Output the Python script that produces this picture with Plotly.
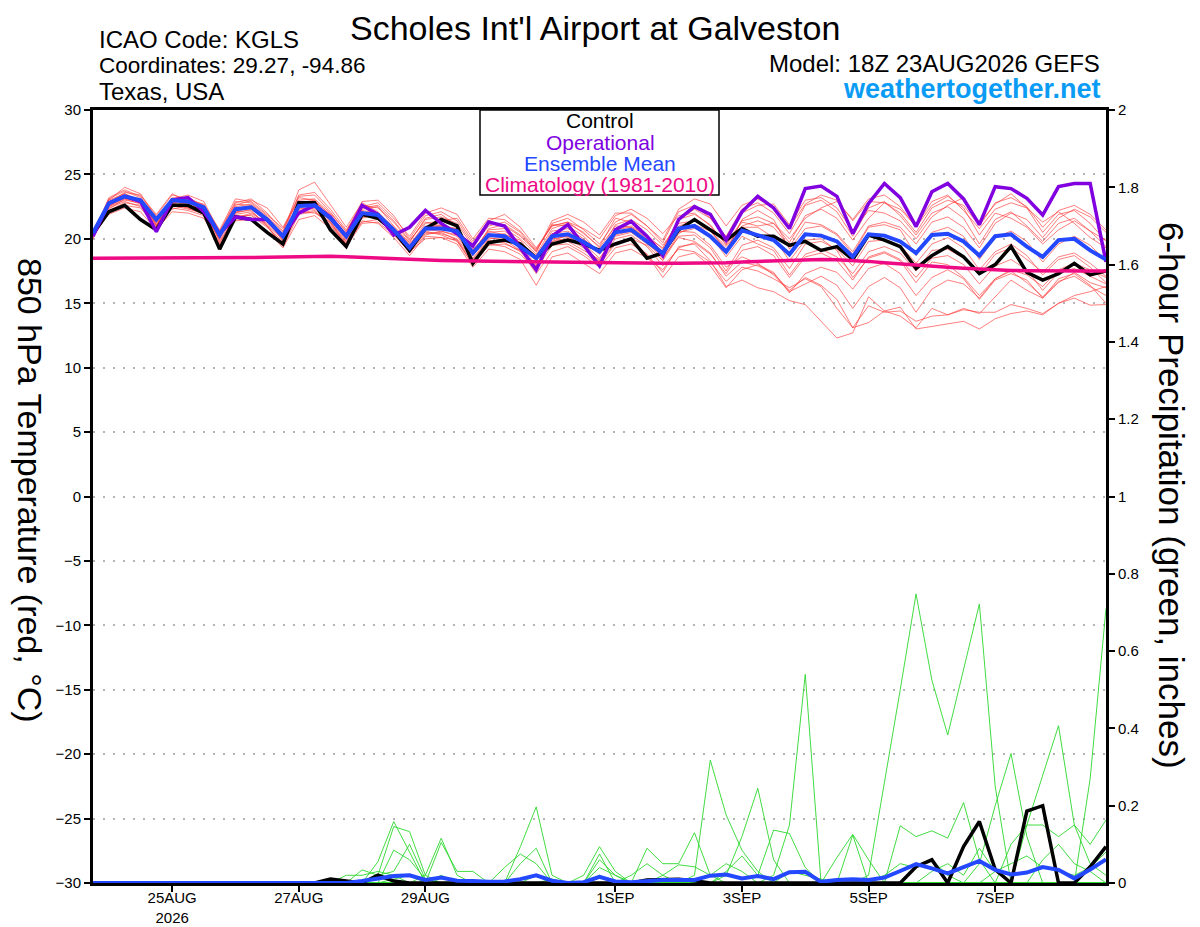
import plotly.graph_objects as go
from datetime import datetime, timedelta

# ---------------- data ----------------
START = datetime(2026, 8, 23, 18)
N_STEPS = 65
TIMES = [START + timedelta(hours=6 * i) for i in range(N_STEPS)]

TICK_DATES = ["2026-08-25", "2026-08-27", "2026-08-29", "2026-09-01",
              "2026-09-03", "2026-09-05", "2026-09-07"]
TICK_LABELS = ["25AUG<br>2026", "27AUG", "29AUG", "1SEP", "3SEP", "5SEP", "7SEP"]
TEMP_TICKS = [-30, -25, -20, -15, -10, -5, 0, 5, 10, 15, 20, 25, 30]
PRECIP_TICKS = [0, 0.2, 0.4, 0.6, 0.8, 1.0, 1.2, 1.4, 1.6, 1.8, 2.0]
PRECIP_TICK_LABELS = ["0", "0.2", "0.4", "0.6", "0.8", "1", "1.2", "1.4", "1.6", "1.8", "2"]

CONTROL_T = [20.4, 22.1, 22.6, 21.5, 20.7, 22.6, 22.6, 22.0,
             19.2, 21.7, 21.5, 20.5, 19.6, 22.8, 22.8, 20.7,
             19.4, 21.9, 21.6, 20.6, 19.1, 20.8, 21.5, 21.0,
             18.1, 19.7, 19.9, 19.6, 18.5, 19.6, 19.9, 19.6,
             19.1, 19.6, 20.0, 18.5, 18.9, 20.7, 21.5, 20.7,
             19.9, 20.8, 20.2, 20.2, 19.5, 19.8, 19.1, 19.4,
             18.4, 20.3, 19.9, 19.4, 17.7, 18.7, 19.4, 18.6,
             17.3, 18.0, 19.4, 17.4, 16.8, 17.3, 18.1, 17.2,
             17.5]

OPER_T = [20.2, 22.75, 23.3, 22.9, 20.55, 23.0, 23.2, 22.1,
          20.4, 21.7, 21.5, 21.5, 20.2, 22.0, 22.6, 21.7,
          20.2, 22.6, 21.9, 20.3, 20.9, 22.2, 21.2, 20.4,
          19.45, 21.3, 21.0, 19.3, 17.6, 20.2, 21.1, 19.5,
          17.9, 20.7, 21.35, 20.2, 18.7, 21.5, 22.5, 21.9,
          19.9, 22.1, 23.3, 22.4, 20.8, 23.9, 24.1, 23.3,
          20.4, 22.75, 24.3, 23.2, 20.95, 23.65, 24.3, 23.1,
          21.1, 24.05, 23.9, 23.15, 21.85, 24.05, 24.3, 24.3,
          18.2]

MEAN_T = [20.45, 22.76, 23.3, 23.0, 21.5, 23.0, 22.9, 22.45,
          20.3, 22.3, 22.45, 21.5, 20.2, 22.55, 22.6, 21.6,
          20.2, 22.0, 21.85, 20.7, 19.3, 20.8, 20.8, 20.6,
          18.9, 20.3, 20.2, 19.4, 18.5, 20.2, 20.35, 19.75,
          19.0, 20.5, 20.7, 19.8, 18.9, 20.8, 21.0, 20.2,
          19.0, 20.65, 20.3, 19.9, 18.8, 20.35, 20.25, 19.8,
          18.6, 20.35, 20.25, 19.8, 18.9, 20.3, 20.4, 19.8,
          18.7, 20.2, 20.35, 19.4, 18.6, 19.9, 20.0, 19.1,
          18.4]

CLIMO_T = [18.5, 18.5, 18.52, 18.53, 18.55, 18.55, 18.54, 18.52,
           18.52, 18.53, 18.55, 18.57, 18.6, 18.62, 18.65, 18.65,
           18.6, 18.55, 18.48, 18.42, 18.38, 18.35, 18.32, 18.3,
           18.28, 18.27, 18.25, 18.24, 18.22, 18.22, 18.2, 18.2,
           18.18, 18.17, 18.15, 18.12, 18.1, 18.1, 18.1, 18.12,
           18.15, 18.2, 18.25, 18.3, 18.35, 18.38, 18.4, 18.38,
           18.33, 18.25, 18.15, 18.05, 17.95, 17.87, 17.8, 17.72,
           17.65, 17.6, 17.55, 17.52, 17.5, 17.5, 17.5, 17.5,
           17.5]

MEMBERS_T = [
    [20.3, 23.2, 23.8, 23.3, 21.8, 23.4, 23.1, 22.6, 20.6, 22.8, 23.1, 22.0, 20.6, 23.4, 23.6, 22.3,
     20.7, 22.6, 22.4, 21.3, 19.8, 21.5, 21.7, 21.2, 19.4, 21.0, 21.3, 20.5, 19.0, 21.2, 21.6, 20.7,
     19.6, 21.3, 21.9, 21.0, 19.7, 22.1, 22.6, 21.6, 20.2, 22.3, 22.8, 22.0, 20.4, 22.6, 23.0, 22.1,
     20.2, 22.4, 22.9, 21.8, 20.3, 22.0, 22.5, 21.6, 19.6, 21.5, 22.1, 21.0, 19.8, 21.2, 21.6, 20.6, 19.4],
    [20.6, 22.5, 23.0, 22.8, 21.2, 22.7, 22.5, 22.0, 19.9, 21.9, 22.1, 21.1, 19.7, 22.0, 22.2, 21.0,
     19.6, 21.4, 21.2, 20.1, 18.7, 20.2, 20.1, 19.9, 18.2, 19.6, 19.4, 18.8, 17.6, 19.5, 19.6, 18.9,
     18.0, 19.6, 19.9, 18.8, 17.4, 19.4, 19.6, 18.3, 16.3, 16.8, 16.2, 15.9, 15.2, 14.9, 13.6, 12.3,
     12.7, 15.5, 14.4, 14.0, 13.1, 14.6, 14.1, 14.6, 14.2, 15.5, 16.8, 16.0, 15.4, 16.6, 17.4, 16.6, 16.2],
    [20.2, 22.0, 22.6, 22.4, 20.9, 22.3, 22.6, 22.1, 20.1, 22.0, 22.3, 21.3, 20.0, 22.3, 22.5, 21.4,
     19.9, 21.8, 21.6, 20.4, 19.0, 20.5, 20.4, 20.0, 18.4, 19.9, 19.7, 19.0, 17.9, 19.8, 20.0, 19.3,
     18.3, 20.0, 20.3, 19.4, 17.9, 19.2, 19.0, 18.2, 16.7, 17.8, 17.5, 16.9, 16.2, 16.9, 16.3, 14.6,
     13.1, 14.8, 14.3, 14.4, 13.6, 14.0, 14.1, 14.5, 14.3, 14.3, 14.9, 14.6, 14.2, 15.0, 15.4, 14.85, 14.9],
    [20.0, 23.0, 24.0, 23.5, 21.6, 23.1, 23.4, 22.9, 20.5, 22.9, 22.8, 21.8, 20.5, 23.8, 24.4, 22.6,
     20.9, 22.8, 22.1, 20.9, 19.5, 21.2, 21.4, 21.6, 19.8, 21.4, 21.9, 20.9, 19.3, 21.0, 21.3, 20.4,
     19.4, 21.6, 21.3, 20.3, 19.2, 21.5, 21.9, 21.1, 19.5, 21.3, 21.0, 21.2, 20.0, 21.6, 22.4, 22.9,
     21.5, 23.1, 23.4, 22.5, 20.9, 22.6, 23.3, 22.4, 20.3, 22.0, 21.6, 20.9, 19.6, 20.7, 21.4, 20.6, 19.9],
    [20.5, 22.4, 22.9, 22.5, 21.0, 22.9, 22.6, 22.3, 19.8, 21.6, 22.0, 21.2, 19.9, 22.1, 22.0, 21.3,
     19.8, 21.6, 21.9, 20.9, 19.6, 21.0, 20.9, 20.8, 19.1, 20.6, 20.3, 19.9, 18.3, 20.4, 20.1, 19.6,
     18.5, 20.2, 20.5, 19.6, 18.7, 20.5, 20.8, 20.3, 18.6, 20.2, 19.6, 19.1, 17.2, 18.8, 19.2, 18.6,
     17.3, 19.0, 19.4, 18.9, 17.5, 19.1, 19.2, 18.5, 17.2, 18.8, 19.3, 18.4, 17.4, 18.6, 18.9, 18.1, 17.1],
    [20.4, 22.9, 23.5, 23.0, 21.3, 22.6, 22.3, 22.0, 20.0, 22.5, 22.7, 21.7, 20.3, 22.8, 23.0, 21.8,
     20.4, 22.3, 22.5, 21.0, 19.7, 21.6, 21.9, 21.0, 19.0, 20.7, 20.8, 20.0, 18.8, 20.8, 21.2, 20.5,
     19.3, 21.0, 20.9, 20.1, 19.3, 21.5, 22.3, 21.6, 20.1, 22.0, 22.6, 22.7, 21.1, 23.0, 23.2, 22.4,
     20.6, 22.2, 22.0, 21.4, 20.0, 21.7, 22.6, 23.2, 21.2, 22.7, 23.5, 22.4, 20.5, 21.9, 22.2, 21.2, 19.8],
    [20.1, 22.2, 22.8, 22.6, 21.4, 23.2, 23.1, 22.4, 20.4, 22.1, 22.2, 21.0, 19.5, 22.2, 22.4, 21.5,
     20.0, 22.1, 21.7, 20.5, 18.9, 20.3, 20.6, 20.3, 18.7, 20.1, 19.9, 19.1, 17.9, 20.0, 20.2, 19.4,
     18.2, 19.7, 20.0, 19.5, 18.3, 20.2, 20.3, 19.3, 17.5, 19.5, 19.9, 19.3, 17.7, 19.6, 19.8, 19.2,
     17.9, 19.8, 19.9, 19.5, 18.1, 19.6, 20.1, 19.3, 17.6, 19.0, 19.6, 18.7, 17.2, 18.4, 18.7, 17.8, 16.6],
    [20.6, 22.7, 23.3, 23.1, 21.7, 22.8, 22.4, 22.2, 20.2, 22.4, 22.5, 21.6, 20.1, 22.4, 22.3, 21.2,
     19.7, 21.9, 22.0, 20.8, 19.2, 20.7, 20.6, 20.2, 18.5, 20.0, 20.1, 19.4, 18.0, 19.8, 20.3, 19.8,
     18.8, 20.3, 20.6, 19.9, 18.6, 20.1, 19.8, 18.9, 17.1, 18.2, 17.9, 17.3, 16.0, 17.0, 16.4, 15.3,
     13.1, 13.5, 14.4, 14.7, 13.0, 13.2, 13.4, 13.6, 13.0, 13.8, 14.2, 14.4, 14.1, 15.0, 15.6, 15.9, 16.3],
    [20.3, 23.0, 23.5, 22.9, 21.1, 22.8, 23.0, 22.7, 20.7, 23.1, 22.9, 21.9, 20.8, 23.0, 23.1, 22.0,
     20.6, 22.5, 22.8, 21.6, 20.2, 22.0, 22.4, 21.9, 20.0, 21.6, 21.5, 20.6, 19.2, 21.0, 21.3, 20.8,
     20.0, 21.8, 22.3, 21.6, 20.4, 21.8, 22.0, 21.0, 19.6, 21.4, 21.7, 21.2, 19.7, 21.8, 22.3, 21.6,
     19.9, 21.6, 22.8, 22.3, 21.0, 22.9, 23.4, 22.2, 20.8, 22.3, 22.8, 22.4, 21.3, 22.1, 21.2, 20.1, 19.3],
    [20.5, 21.9, 22.4, 22.1, 20.7, 22.1, 22.0, 21.6, 19.6, 21.4, 21.5, 20.6, 19.3, 21.5, 21.8, 20.8,
     19.4, 21.2, 21.3, 20.3, 19.0, 20.0, 20.1, 19.6, 17.8, 19.2, 19.0, 18.4, 16.4, 18.6, 18.9, 18.1,
     17.3, 18.9, 19.2, 18.5, 17.6, 19.3, 19.7, 18.8, 17.3, 19.1, 19.4, 18.7, 17.0, 18.6, 18.9, 18.3,
     16.8, 18.6, 19.0, 18.4, 17.0, 18.5, 18.7, 18.0, 16.5, 17.9, 18.4, 17.6, 16.0, 17.4, 17.7, 17.1, 16.5],
    [20.4, 22.6, 23.1, 22.7, 21.3, 22.5, 22.8, 22.3, 20.2, 22.0, 22.6, 21.5, 19.8, 22.6, 22.9, 21.9,
     20.2, 22.2, 22.0, 20.6, 19.3, 20.9, 21.1, 20.7, 19.0, 20.5, 20.6, 19.7, 18.6, 20.6, 20.8, 20.0,
     18.9, 20.8, 21.0, 20.2, 19.0, 20.6, 20.5, 19.5, 17.8, 18.6, 18.1, 17.2, 15.9, 16.5, 17.1, 16.4,
     14.6, 16.3, 17.0, 16.2, 14.3, 16.1, 16.8, 16.5, 15.4, 16.9, 17.6, 17.2, 16.3, 17.6, 18.1, 17.6, 17.0],
    [20.7, 22.8, 23.6, 23.4, 21.9, 23.5, 22.9, 22.1, 20.0, 22.6, 23.0, 22.4, 20.9, 23.2, 23.0, 21.5,
     20.1, 22.4, 22.6, 21.4, 19.9, 21.3, 21.0, 20.5, 18.8, 20.8, 21.1, 20.3, 19.1, 21.1, 21.0, 20.2,
     18.9, 21.1, 21.5, 20.7, 19.5, 21.2, 21.4, 20.6, 19.2, 21.0, 21.4, 20.9, 19.4, 21.3, 21.1, 20.4,
     19.0, 21.0, 21.3, 20.9, 19.6, 21.3, 21.7, 20.9, 19.3, 21.2, 22.0, 21.5, 20.1, 21.6, 22.3, 21.7, 20.5],
    [20.2, 22.3, 23.1, 22.9, 21.1, 22.4, 22.2, 21.8, 19.7, 21.8, 21.8, 20.9, 19.6, 22.5, 22.7, 21.3,
     19.5, 21.7, 21.8, 20.8, 19.4, 20.6, 20.3, 19.8, 18.0, 19.7, 20.0, 19.6, 18.4, 20.1, 19.8, 19.1,
     18.4, 20.4, 20.8, 19.8, 18.4, 20.4, 21.1, 20.6, 19.4, 20.9, 20.9, 20.1, 18.3, 19.9, 20.0, 19.1,
     17.0, 18.5, 18.9, 18.3, 16.6, 18.2, 18.0, 17.0, 15.6, 16.9, 17.5, 16.6, 15.5, 16.7, 17.1, 16.3, 15.6],
    [20.3, 22.6, 23.3, 22.8, 21.0, 23.0, 23.2, 22.6, 20.3, 22.2, 22.4, 21.4, 20.0, 22.6, 22.8, 21.6,
     20.3, 22.0, 21.8, 20.7, 19.3, 20.8, 21.0, 20.8, 19.2, 20.3, 20.4, 19.7, 18.7, 20.4, 20.6, 19.9,
     19.1, 20.7, 20.9, 20.0, 18.9, 21.0, 21.4, 20.7, 19.0, 21.5, 22.2, 21.5, 19.2, 20.8, 21.0, 20.3,
     18.8, 20.9, 21.1, 20.7, 18.7, 20.5, 20.9, 20.2, 18.4, 20.1, 20.6, 19.8, 18.2, 19.6, 20.2, 19.5, 18.3],
    [20.6, 22.5, 23.2, 22.9, 21.4, 22.6, 22.4, 21.9, 19.5, 21.5, 21.9, 21.0, 19.4, 21.9, 22.1, 21.1,
     19.6, 21.3, 21.5, 20.6, 19.1, 20.4, 20.5, 19.9, 18.0, 19.5, 19.6, 19.1, 17.3, 19.0, 19.4, 18.7,
     17.8, 19.3, 19.6, 18.8, 17.0, 18.6, 18.9, 17.9, 16.2, 17.6, 18.0, 17.4, 15.8, 17.3, 17.8, 17.4,
     16.1, 17.7, 18.1, 17.3, 15.6, 17.0, 17.6, 16.9, 15.3, 16.8, 17.3, 16.8, 15.4, 16.9, 17.3, 16.4, 15.0],
    [20.4, 23.1, 23.7, 23.2, 21.5, 22.8, 23.0, 22.5, 20.4, 22.7, 22.6, 21.6, 20.4, 23.3, 23.4, 22.1,
     20.5, 22.9, 23.0, 21.8, 20.0, 21.8, 22.1, 21.4, 19.6, 21.2, 21.0, 20.2, 19.0, 21.4, 21.9, 21.3,
     20.3, 22.0, 22.0, 21.0, 19.9, 22.3, 23.1, 22.7, 21.0, 22.6, 23.1, 22.4, 20.9, 22.7, 23.4, 23.0,
     21.4, 22.9, 22.8, 22.0, 20.5, 22.4, 23.0, 22.6, 21.0, 22.8, 23.2, 22.5, 20.9, 22.2, 22.6, 21.9, 20.7],
]

CONTROL_P = [0, 0, 0, 0, 0, 0, 0, 0,
             0, 0, 0, 0, 0, 0, 0, 0.01,
             0.004, 0, 0.02, 0.005, 0, 0, 0, 0,
             0, 0, 0, 0, 0, 0, 0, 0,
             0, 0, 0, 0.008, 0.01, 0.01, 0.006, 0,
             0, 0, 0, 0, 0, 0, 0, 0,
             0, 0, 0, 0, 0.042, 0.06, 0, 0.094,
             0.159, 0.035, 0, 0.186, 0.2, 0, 0, 0.042,
             0.094]

MEAN_P = [0, 0, 0, 0, 0, 0, 0, 0,
          0, 0, 0, 0, 0, 0, 0, 0,
          0, 0.005, 0.012, 0.018, 0.02, 0.008, 0.014, 0.006,
          0.005, 0.003, 0.004, 0.01, 0.02, 0.006, 0, 0.002,
          0.016, 0.004, 0.002, 0.005, 0.008, 0.008, 0.008, 0.019,
          0.022, 0.012, 0.018, 0.01, 0.028, 0.029, 0.003, 0.008,
          0.01, 0.008, 0.014, 0.031, 0.049, 0.038, 0.025, 0.041,
          0.057, 0.034, 0.022, 0.027, 0.041, 0.034, 0.012, 0.035,
          0.061]

# ensemble member precipitation: {6-hour step index: inches}, all other steps are 0
MEMBERS_P = [
    {18: 0.055, 19: 0.159, 20: 0.08, 49: 0.02, 50: 0.258, 51: 0.5, 52: 0.748, 53: 0.525,
     54: 0.383, 55: 0.55, 56: 0.722, 57: 0.25},
    {18: 0.02, 19: 0.146, 20: 0.133, 21: 0.02, 27: 0.05, 28: 0.09, 56: 0.05, 57: 0.2,
     58: 0.335, 59: 0.12},
    {19: 0.085, 20: 0.06, 21: 0.01, 27: 0.094, 28: 0.197, 29: 0.02, 59: 0.15, 60: 0.28,
     61: 0.407, 62: 0.15, 63: 0.05, 64: 0.02},
    {17: 0.034, 18: 0.02, 19: 0.03, 20: 0.1, 21: 0.01, 32: 0.06, 33: 0.02, 63: 0.27, 64: 0.71},
    {21: 0.02, 22: 0.116, 23: 0.02, 48: 0.124, 51: 0.148, 52: 0.12, 53: 0.135, 54: 0.116,
     55: 0.208, 56: 0.06},
    {22: 0.105, 23: 0.03, 24: 0.03, 58: 0.1, 59: 0.15, 60: 0.15, 61: 0.12, 62: 0.15,
     63: 0.1, 64: 0.163},
    {16: 0.02, 17: 0.02, 18: 0.03, 19: 0.02, 26: 0.04, 27: 0.075, 28: 0.05, 32: 0.04, 33: 0.02},
    {38: 0.02, 39: 0.318, 40: 0.176, 41: 0.085, 42: 0.03},
    {40: 0.02, 41: 0.12, 42: 0.245, 43: 0.06},
    {40: 0.03, 41: 0.07, 42: 0.02, 43: 0.137, 44: 0.128, 45: 0.04, 47: 0.066, 48: 0.126, 49: 0.06},
    {31: 0.02, 32: 0.094, 33: 0.03, 43: 0.02, 44: 0.15, 45: 0.54},
    {32: 0.075, 35: 0.09, 36: 0.05, 37: 0.05, 38: 0.13, 39: 0.02},
    {28: 0.02, 32: 0.02, 36: 0.02, 37: 0.047, 38: 0.042, 39: 0.02, 40: 0.05, 41: 0.03,
     50: 0.02, 51: 0.05, 52: 0.04, 53: 0.06, 54: 0.02, 57: 0.03, 58: 0.05, 59: 0.07,
     60: 0.04, 61: 0.03, 62: 0.02, 63: 0.04, 64: 0.08},
    {19: 0.01, 20: 0.02, 22: 0.02, 29: 0.01, 34: 0.02, 35: 0.05, 36: 0.02, 44: 0.03,
     45: 0.02, 46: 0.01, 53: 0.03, 54: 0.05, 55: 0.02, 56: 0.09, 57: 0.03, 60: 0.06,
     61: 0.1, 62: 0.05, 63: 0.03},
]

# ---------------- styling ----------------
FONT = "Liberation Sans, Arial, Helvetica, sans-serif"
RED = "rgba(255,55,55,0.72)"
GREEN = "rgb(45,215,45)"
BLACK = "#000000"
PURPLE = "#8000e0"
BLUE = "#2348ff"
PINK = "#ee0a84"

# page offset (default body margin) and plot rectangle in screen pixels
OFF = 8
FIG_W, FIG_H = 1200 - OFF, 927 - OFF
L, R, T, B = 93, 1106, 110, 883


def px(x):
    return (x - L) / (R - L)


def py(y):
    return (B - y) / (B - T)


fig = go.Figure()

for m in MEMBERS_T:
    fig.add_trace(go.Scatter(x=TIMES[:len(m)], y=m, mode="lines",
                             line=dict(color=RED, width=0.9), yaxis="y", hoverinfo="skip"))

fig.add_trace(go.Scatter(x=TIMES, y=CONTROL_T, mode="lines", line=dict(color=BLACK, width=3.5), yaxis="y"))
fig.add_trace(go.Scatter(x=TIMES, y=OPER_T, mode="lines", line=dict(color=PURPLE, width=3.5), yaxis="y"))
fig.add_trace(go.Scatter(x=TIMES, y=MEAN_T, mode="lines", line=dict(color=BLUE, width=4), yaxis="y"))
fig.add_trace(go.Scatter(x=TIMES, y=CLIMO_T, mode="lines", line=dict(color=PINK, width=3.5), yaxis="y"))

for m in MEMBERS_P:
    vals = [m.get(i, 0.0) for i in range(N_STEPS)]
    fig.add_trace(go.Scatter(x=TIMES, y=vals, mode="lines",
                             line=dict(color=GREEN, width=0.9), yaxis="y2", hoverinfo="skip"))

fig.add_trace(go.Scatter(x=TIMES, y=CONTROL_P, mode="lines", line=dict(color=BLACK, width=3.5), yaxis="y2"))
fig.add_trace(go.Scatter(x=TIMES, y=MEAN_P, mode="lines", line=dict(color=BLUE, width=4), yaxis="y2"))

annotations = [
    dict(text="Scholes Int'l Airport at Galveston", x=px(595), y=py(OFF), xanchor="center",
         yanchor="top", borderpad=0, font=dict(size=34, color="black")),
    dict(text="ICAO Code: KGLS", x=px(97), y=py(40), xanchor="left", yanchor="middle",
         font=dict(size=24, color="black")),
    dict(text="Coordinates: 29.27, -94.86", x=px(97), y=py(66), xanchor="left", yanchor="middle",
         font=dict(size=22.5, color="black")),
    dict(text="Texas, USA", x=px(97), y=py(92), xanchor="left", yanchor="middle",
         font=dict(size=24, color="black")),
    dict(text="Model: 18Z 23AUG2026 GEFS", x=px(1102), y=py(63), xanchor="right", yanchor="middle",
         font=dict(size=24, color="black")),
    dict(text="<b>weathertogether.net</b>", x=px(1103), y=py(89), xanchor="right", yanchor="middle",
         font=dict(size=27, color="#0a9cf5")),
    dict(text="Control", x=px(600), y=py(121), xanchor="center", yanchor="middle",
         font=dict(size=21, color=BLACK)),
    dict(text="Operational", x=px(600), y=py(142), xanchor="center", yanchor="middle",
         font=dict(size=21, color=PURPLE)),
    dict(text="Ensemble Mean", x=px(600), y=py(163), xanchor="center", yanchor="middle",
         font=dict(size=21, color=BLUE)),
    dict(text="Climatology (1981-2010)", x=px(600), y=py(185), xanchor="center", yanchor="middle",
         font=dict(size=21, color=PINK)),
    dict(text="850 hPa Temperature (red, °C)", x=px(30), y=py(490), textangle=90,
         xanchor="center", yanchor="middle", font=dict(size=34, color="black")),
    dict(text="6-hour Precipitation (green, inches)", x=px(1172), y=py(495), textangle=90,
         xanchor="center", yanchor="middle", font=dict(size=35, color="black")),
]
for a in annotations:
    a.update(xref="paper", yref="paper", showarrow=False)

fig.update_layout(
    width=FIG_W, height=FIG_H,
    margin=dict(l=L - OFF, r=FIG_W - (R - OFF), t=T - OFF, b=FIG_H - (B - OFF), autoexpand=False),
    paper_bgcolor="white", plot_bgcolor="white",
    showlegend=False,
    font=dict(family=FONT, color="black"),
    annotations=annotations,
    shapes=[dict(type="rect", xref="paper", yref="paper", x0=px(480), x1=px(719),
                 y0=py(195), y1=py(110), line=dict(color="black", width=1.5),
                 fillcolor="white", layer="above")],
    xaxis=dict(type="date", range=[TIMES[0], TIMES[-1]], tickvals=TICK_DATES, ticktext=TICK_LABELS,
               ticks="outside", ticklen=6, tickwidth=1.5, tickcolor="black", automargin=False,
               ticklabelstandoff=-7,
               showline=True, linewidth=3, linecolor="black", mirror=True,
               showgrid=False, zeroline=False, tickfont=dict(size=15, color="black")),
    yaxis=dict(range=[-30, 30], tickvals=TEMP_TICKS, ticks="outside", ticklen=6, tickwidth=1.5,
               tickcolor="black", showline=True, linewidth=3, linecolor="black", automargin=False,
               showgrid=True, gridcolor="#b4b4b4", gridwidth=1.5, griddash="2px,8px",
               zeroline=False, tickfont=dict(size=15, color="black")),
    yaxis2=dict(range=[0, 2], overlaying="y", side="right", tickvals=PRECIP_TICKS,
                ticktext=PRECIP_TICK_LABELS, ticks="outside", ticklen=6, tickwidth=1.5,
                tickcolor="black", showline=True, linewidth=3, linecolor="black", automargin=False,
                showgrid=False, zeroline=False, tickfont=dict(size=15, color="black")),
)

fig.write_html("out.html")
